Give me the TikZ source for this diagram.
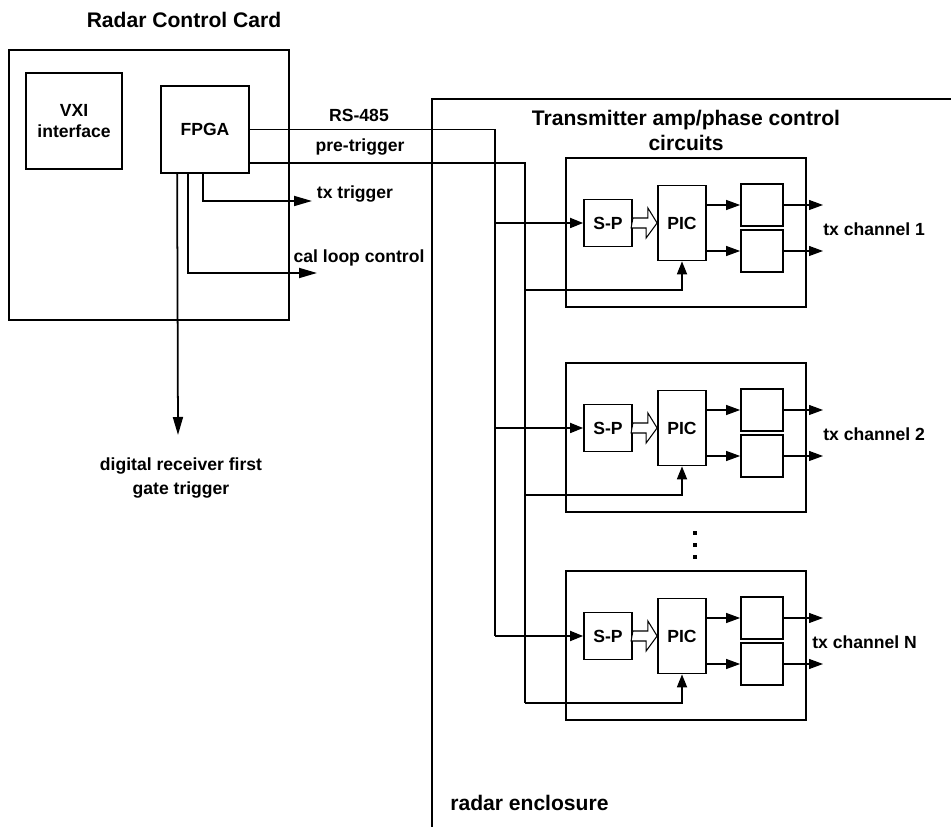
\documentclass[tikz,border=0pt]{standalone}
\usepackage{fontspec}
\setmainfont{Liberation Sans}
\usetikzlibrary{arrows.meta}
\tikzset{
  blk/.style={draw,line width=1pt,inner sep=0pt,font=\fontsize{10}{12}\selectfont\bfseries},
  lbl/.style={inner sep=0pt,font=\fontsize{10}{14}\selectfont\bfseries},
  ttl/.style={inner sep=0pt,font=\fontsize{12}{14.2}\selectfont\bfseries},
  wire/.style={line width=1pt},
  sig/.style={line width=1pt,-{Triangle[length=3.6mm,width=2mm]}},
  insig/.style={line width=1pt,-{Triangle[length=2.6mm,width=2mm]}},
  outsig/.style={line width=0.6pt,-{Triangle[length=2.8mm,width=2mm]}}
}
\begin{document}
\begin{tikzpicture}[x=0.02cm,y=-0.02cm]
  \useasboundingbox (0,0) rectangle (951,827);
  % radar control card
  \node[ttl] (cardttl) at (184,20) {Radar Control Card};
  \node[blk,minimum width=5.6cm,minimum height=5.4cm] (card) at (149,185) {};
  \node[blk,minimum width=1.92cm,minimum height=1.92cm,align=center] (vxi) at (74,121) {VXI\\interface};
  \node[blk,minimum width=1.76cm,minimum height=1.74cm] (fpga) at (205,129.5) {FPGA};
  \coordinate (txtip) at (312,201);
  \coordinate (caltip) at (317,273);
  \coordinate (rxtip) at (178,435);
  \draw[sig] ([xshift=0.86cm]fpga.south west) |- (txtip);
  \draw[sig] ([xshift=0.56cm]fpga.south west) |- (caltip);
  \draw[sig] ([xshift=0.34cm]fpga.south west) -- (rxtip);
  \node[lbl] (txlbl) at (355,194) {tx trigger};
  \node[lbl] (callbl) at (359,258) {cal loop control};
  \node[lbl,align=center] (rxlbl) at (181,478) {digital receiver first\\gate trigger};
  \node[lbl] (rslbl) at (359,115) {RS-485};
  \node[lbl] (ptlbl) at (360,147) {pre-trigger};

  % radar enclosure
  \draw[wire] (432,827) -- (432,99) -- (951,99);
  \node[ttl,align=center] (encttl) at (686,130) {Transmitter amp/phase control\\circuits};
  \node[ttl,anchor=west] (enclbl) at (450,803) {radar enclosure};
  \coordinate (rsx) at (495,0);
  \foreach \i/\y/\lx/\txt in {1/0/823/1, 2/205/823/2, 3/413/812/N} {
    \node[blk,minimum width=4.8cm,minimum height=2.98cm] (ch\i) at (686,232.5+\y) {};
    \node[blk,minimum width=0.96cm,minimum height=0.94cm] (sp\i) at (608,223+\y) {S-P};
    \node[blk,minimum width=0.96cm,minimum height=1.5cm] (pic\i) at (682,223+\y) {PIC};
    \node[blk,minimum width=0.84cm,minimum height=0.84cm] (oa\i) at (762,205+\y) {};
    \node[blk,minimum width=0.84cm,minimum height=0.84cm] (ob\i) at (762,251+\y) {};
    \coordinate (ta\i) at (823,205+\y);
    \coordinate (tb\i) at (823,251+\y);
    \coordinate (pb\i) at (525,290+\y);
    \node[lbl,anchor=west] (chl\i) at (\lx,229+\y) {tx channel \txt};
    \draw[outsig] (pic\i.east |- oa\i) -- (oa\i);
    \draw[outsig] (pic\i.east |- ob\i) -- (ob\i);
    \draw[outsig] (oa\i) -- (ta\i);
    \draw[outsig] (ob\i) -- (tb\i);
    \draw[line width=0.6pt,fill=white] (sp\i.east) ++(0,-5) -- ++(15,0) -- ++(0,-10)
      -- (pic\i.west) -- ++(-11,15) -- ++(0,-10) -- ++(-15,0) -- cycle;
    \draw[insig] (rsx |- sp\i) -- (sp\i);
    \draw[insig] (pb\i) -| (pic\i);
  }
  \draw[wire] (fpga.east) -| (rsx |- sp3);
  \draw[wire] ([yshift=0.22cm]fpga.south east) -| (pb3);
  \foreach \d in {533,545,557} \fill (693,\d-2) rectangle (697,\d+2);
\end{tikzpicture}
\end{document}
